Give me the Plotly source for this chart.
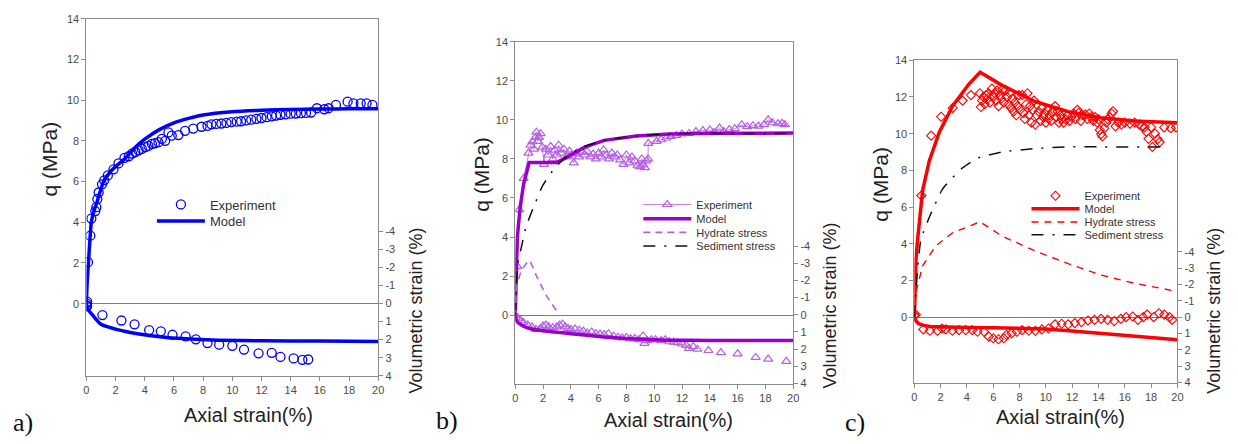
import plotly.graph_objects as go

# ---------------- data: panel a ----------------
a_exp_x = [0.0, 0.05, 0.11, 0.27, 0.34, 0.61, 0.68, 0.75, 0.84, 1.07,
           1.22, 1.47, 1.86, 2.2, 2.61, 2.9, 3.13, 3.35, 3.58, 3.8,
           4.04, 4.25, 4.49, 4.7, 4.94, 5.17, 5.4, 5.62, 5.85, 6.3,
           6.76, 7.32, 7.89, 8.3, 8.57, 8.9, 9.25, 9.6, 9.93, 10.3,
           10.6, 10.95, 11.3, 11.65, 12.0, 12.35, 12.7, 13.0, 13.3, 13.65,
           14.0, 14.35, 14.7, 15.05, 15.4, 15.8, 16.3, 16.6, 17.1, 17.9,
           18.3, 18.8, 19.2, 19.6]
a_exp_q = [-0.1, 0.1, 2.04, 3.34, 4.18, 4.55, 4.74, 5.14, 5.46, 5.86,
           6.06, 6.3, 6.6, 6.89, 7.16, 7.24, 7.37, 7.45, 7.53, 7.6,
           7.69, 7.75, 7.85, 7.88, 7.93, 8.09, 8.0, 8.41, 8.25, 8.28,
           8.49, 8.6, 8.69, 8.73, 8.81, 8.83, 8.85, 8.88, 8.92, 8.94,
           8.96, 9.0, 9.04, 9.08, 9.12, 9.16, 9.2, 9.24, 9.28, 9.3,
           9.33, 9.34, 9.36, 9.37, 9.39, 9.6, 9.55, 9.6, 9.76, 9.92,
           9.84, 9.84, 9.84, 9.76]
a_mod_x = [0, 0.05, 0.14, 0.34, 0.5, 0.73, 1.18, 1.8, 2.65, 3.3, 4.0,
           5.0, 6.0, 7.0, 8.0, 10.0, 12.0, 14.0, 16.0, 18.0, 20.0]
a_mod_q = [0, 1.0, 2.0, 4.0, 4.5, 5.0, 6.0, 6.6, 7.13, 7.65, 8.08,
           8.55, 8.88, 9.1, 9.27, 9.43, 9.5, 9.54, 9.56, 9.57, 9.58]
a_mod_vx = [0, 0.1, 0.4, 1.0, 2.0, 3.0, 4.3, 5.5, 7.45, 9.0, 12, 16, 20]
a_mod_v = [0, 0.3, 0.62, 1.15, 1.42, 1.6, 1.77, 1.88, 1.98, 2.03, 2.06, 2.08, 2.1]
a_exp_vx = [0.0, 0.05, 1.1, 2.4, 3.3, 4.3, 5.1, 5.9, 6.8, 7.5,
            8.3, 9.1, 10.0, 10.8, 11.8, 12.7, 13.3, 14.2, 14.8, 15.2]
a_exp_v = [0.0, 0.15, 0.64, 0.94, 1.15, 1.47, 1.54, 1.73, 1.82, 1.98,
           2.19, 2.28, 2.34, 2.55, 2.76, 2.73, 2.96, 3.04, 3.12, 3.1]

# ---------------- data: panel b ----------------
b_exp_x = [0.0, 0.15, 0.29, 0.6, 0.95, 1.1, 1.24, 1.35, 1.45, 1.52,
           1.6, 1.7, 1.83, 1.95, 2.07, 2.2, 2.35, 2.55, 2.7, 2.85,
           3.0, 3.12, 3.3, 3.5, 3.7, 3.9, 4.05, 4.21, 4.4, 4.6,
           4.8, 5.0, 5.17, 5.4, 5.6, 5.8, 6.0, 6.2, 6.36, 6.55,
           6.75, 6.95, 7.15, 7.35, 7.55, 7.79, 8.0, 8.2, 8.4, 8.6,
           8.8, 8.98, 9.1, 9.2, 9.33, 9.45, 9.55, 9.57, 10.17, 10.5,
           10.88, 11.2, 11.6, 12.0, 12.5, 13.0, 13.5, 14.0, 14.3, 14.7,
           15.0, 15.4, 15.8, 16.3, 16.7, 17.1, 17.5, 17.9, 18.2, 18.5,
           18.9, 19.2, 19.4]
b_exp_q = [0.0, 2.5, 5.4, 7.0, 8.3, 8.7, 8.88, 8.5, 9.1, 9.37,
           8.9, 9.1, 9.29, 8.6, 7.72, 8.5, 8.2, 8.63, 8.0, 8.45,
           8.2, 8.7, 8.3, 8.5, 8.1, 8.4, 8.2, 7.8, 8.3, 8.1,
           8.35, 8.2, 8.38, 8.1, 8.25, 8.0, 8.3, 8.1, 8.46, 8.2,
           8.0, 8.3, 8.1, 8.2, 7.95, 7.72, 8.2, 7.8, 8.1, 7.9,
           7.65, 7.6, 8.0, 7.7, 7.55, 7.9, 8.0, 8.8, 8.9, 8.98,
           9.07, 9.15, 9.2, 9.28, 9.3, 9.4, 9.45, 9.48, 9.35, 9.58,
           9.4, 9.5, 9.55, 9.75, 9.65, 9.7, 9.68, 9.75, 10.0, 9.85,
           9.8, 9.82, 9.75]
b_mod_x = [0, 0.05, 0.15, 0.35, 0.6, 1.0, 3.0, 3.5, 4.0, 5.0, 6.4, 8.7, 11.1, 14.0, 20.0]
b_mod_q = [0, 2.0, 4.0, 5.5, 6.7, 7.82, 7.82, 8.0, 8.2, 8.6, 8.95, 9.17, 9.28, 9.31, 9.32]
b_sed_x = [0, 0.05, 0.17, 0.45, 0.76, 1.36, 1.95, 2.8, 3.5, 4.2, 5.0, 6.4, 8.7, 11.1, 14.0, 19.5]
b_sed_q = [0, 0.8, 2.6, 3.5, 4.5, 5.6, 6.6, 7.5, 8.0, 8.35, 8.65, 8.95, 9.17, 9.28, 9.3, 9.3]
b_hyd_x = [0, 0.1, 0.4, 1.0, 1.5, 2.2, 3.0]
b_hyd_q = [0, 1.4, 2.2, 2.8, 2.05, 1.05, 0.2]
b_mod_vx = [0, 0.05, 0.2, 0.5, 1.1, 2.0, 2.8, 4.0, 6.36, 8.0, 11.1, 14, 20]
b_mod_v = [0, 0.25, 0.45, 0.62, 0.81, 0.93, 1.0, 1.1, 1.29, 1.38, 1.48, 1.49, 1.49]
b_exp_vx = [0.0, 0.2, 0.4, 0.6, 0.9, 1.2, 1.5, 1.8, 2.0, 2.2,
            2.4, 2.7, 3.0, 3.2, 3.4, 3.6, 3.8, 4.0, 4.3, 4.6,
            4.9, 5.17, 5.5, 5.8, 6.1, 6.4, 6.7, 7.07, 7.4, 7.7,
            8.0, 8.3, 8.6, 8.9, 9.2, 9.3, 9.5, 9.8, 10.1, 10.5,
            10.8, 11.1, 11.4, 11.7, 12.0, 12.3, 12.5, 12.8, 13.1, 13.9,
            14.8, 16.0, 17.3, 18.2, 19.5]
b_exp_v = [0.0, 0.2, 0.35, 0.45, 0.6, 0.7, 0.85, 0.8, 0.65, 0.6,
           0.7, 0.75, 0.7, 0.6, 0.55, 0.7, 0.8, 0.85, 0.82, 0.9,
           0.95, 1.06, 1.0, 1.1, 1.12, 1.15, 1.1, 1.25, 1.3, 1.35,
           1.32, 1.4, 1.38, 1.45, 1.23, 1.67, 1.5, 1.45, 1.45, 1.5,
           1.45, 1.57, 1.6, 1.62, 1.7, 1.78, 1.95, 1.85, 2.0, 2.08,
           2.2, 2.27, 2.48, 2.58, 2.71]

# ---------------- data: panel c ----------------
c_exp_x = [0.0, 0.1, 0.53, 1.28, 2.04, 2.92, 3.67, 4.3, 4.98, 5.06,
           5.15, 5.25, 5.35, 5.45, 5.55, 5.65, 5.75, 5.9, 6.0, 6.1,
           6.2, 6.3, 6.4, 6.5, 6.6, 6.7, 6.8, 6.94, 7.05, 7.15,
           7.25, 7.35, 7.45, 7.55, 7.65, 7.75, 7.85, 7.95, 8.05, 8.2,
           8.3, 8.4, 8.5, 8.6, 8.7, 8.8, 8.9, 9.0, 9.1, 9.2,
           9.3, 9.46, 9.6, 9.7, 9.8, 9.9, 10.0, 10.1, 10.2, 10.3,
           10.4, 10.5, 10.7, 10.8, 10.9, 11.0, 11.1, 11.2, 11.35, 11.5,
           11.65, 11.8, 11.95, 12.1, 12.25, 12.4, 12.5, 12.65, 12.8, 13.0,
           13.15, 13.3, 13.45, 13.6, 13.75, 13.9, 14.0, 14.1, 14.2, 14.3,
           14.45, 14.6, 14.7, 14.85, 15.0, 15.1, 15.3, 15.5, 15.75, 16.0,
           16.4, 16.75, 17.1, 17.3, 17.5, 17.65, 17.8, 18.0, 18.1, 18.3,
           18.5, 18.65, 19.0, 19.5, 19.9]
c_exp_q = [0.1, 0.15, 6.63, 9.89, 10.92, 11.4, 11.8, 12.1, 12.2, 11.45,
           11.8, 12.0, 11.6, 12.1, 11.9, 12.2, 11.7, 12.45, 12.0, 12.2,
           11.8, 12.35, 11.5, 12.1, 11.9, 12.4, 11.7, 12.37, 12.0, 11.6,
           12.2, 11.4, 11.9, 11.2, 11.7, 11.0, 11.5, 12.1, 11.3, 12.1,
           11.13, 10.8, 11.6, 12.2, 11.0, 11.5, 10.6, 11.3, 11.8, 10.5,
           11.0, 11.2, 10.7, 11.4, 10.9, 11.1, 10.6, 11.3, 10.8, 11.0,
           10.7, 11.2, 11.5, 10.9, 11.2, 10.6, 11.0, 10.8, 10.6, 10.78,
           11.0, 10.7, 10.9, 11.1, 10.8, 11.3, 11.13, 10.7, 11.0, 11.04,
           10.8, 11.1, 10.9, 10.7, 10.9, 10.6, 10.78, 10.2, 9.98, 9.85,
           10.3, 10.6, 10.78, 10.9, 11.1, 11.22, 10.4, 10.6, 10.5, 10.6,
           10.55, 10.6, 10.5, 10.4, 10.34, 10.1, 9.72, 10.35, 9.28, 10.0,
           9.7, 9.54, 10.34, 10.3, 10.34]
c_mod_x = [0, 0.05, 0.13, 0.25, 0.63, 1.13, 1.89, 2.9, 4.15, 5.0, 6.67, 9.18, 11.7, 14.2, 16.7, 20]
c_mod_q = [0, 1.77, 3.2, 4.24, 6.9, 8.5, 10.07, 11.5, 12.7, 13.34, 12.63, 11.75, 11.2, 10.87, 10.69, 10.6]
c_hyd_x = [0, 0.13, 0.63, 1.64, 2.9, 5.0, 6.67, 9.18, 11.7, 14.2, 16.7, 20]
c_hyd_q = [0, 1.4, 2.8, 3.9, 4.6, 5.2, 4.42, 3.62, 2.92, 2.3, 1.86, 1.41]
c_sed_x = [0, 0.05, 0.25, 0.5, 1.26, 2.14, 2.9, 3.65, 4.78, 6.67, 9.18, 11.7, 14.2, 19.2]
c_sed_q = [0, 0.7, 2.65, 4.24, 5.65, 6.98, 7.6, 8.13, 8.66, 9.0, 9.19, 9.28, 9.28, 9.28]
c_mod_vx = [0, 0.1, 0.3, 0.7, 1.2, 2, 4, 6, 8, 10, 12, 14, 16, 18, 20]
c_mod_v = [0, 0.2, 0.38, 0.5, 0.57, 0.6, 0.63, 0.65, 0.67, 0.72, 0.85, 0.98, 1.1, 1.24, 1.38]
c_exp_vx = [0.0, 0.68, 1.18, 1.76, 2.1, 2.4, 2.9, 3.4, 3.9, 4.4,
            4.8, 5.3, 5.66, 6.0, 6.4, 6.8, 7.0, 7.4, 7.8, 8.2,
            8.7, 9.2, 9.7, 10.2, 10.7, 11.2, 11.7, 12.2, 12.7, 13.2,
            13.7, 14.2, 14.7, 15.2, 15.7, 16.1, 16.6, 17.0, 17.4, 17.7,
            18.2, 18.6, 19.0, 19.4, 19.6]
c_exp_v = [-0.1, 0.75, 0.83, 0.83, 0.69, 0.75, 0.83, 0.79, 0.79, 0.79,
           0.89, 0.89, 1.19, 1.29, 1.35, 1.29, 1.09, 0.99, 0.89, 0.79,
           0.83, 0.83, 0.75, 0.69, 0.44, 0.4, 0.44, 0.36, 0.3, 0.2,
           0.16, 0.1, 0.16, 0.24, 0.1, 0.0, -0.04, 0.16, 0.0, -0.16,
           0.0, -0.24, -0.16, 0.0, 0.16]

x_ticks = [0, 2, 4, 6, 8, 10, 12, 14, 16, 18, 20]
q_ticks = [0, 2, 4, 6, 8, 10, 12, 14]
v_ticks = [-4, -3, -2, -1, 0, 1, 2, 3, 4]
v_ticktext = ["-4", "-3", "-2", "-1", "0", "1", "2", "3", "4"]

# ---------------- layout geometry (pixels) ----------------
W, H = 1238, 444
FONT = "Liberation Sans, Arial, sans-serif"
SERIF = "Liberation Serif, Times New Roman, serif"
GRAY = "#8c8c8c"

panels = [
    dict(x0=84, x1=378, top=13, bot=380, qlo=-3.54, vtop=-15.79,
         xt=(247, 420), qt=(47, 157), vt=(416, 313), lab=(20, 428), lab_text="a)"),
    dict(x0=516, x1=796, top=36.7, bot=388, qlo=-3.5, vtop=-15.89,
         xt=(670, 425), qt=(482, 173), vt=(833, 308), lab=(447, 426), lab_text="b)"),
    dict(x0=918, x1=1183, top=55.7, bot=387, qlo=-3.55, vtop=-15.73,
         xt=(1065, 422), qt=(883, 183), vt=(1219, 313), lab=(858, 428), lab_text="c)"),
]

fig = go.Figure()
layout = dict(width=W, height=H, margin=dict(l=0, r=0, t=0, b=0),
              paper_bgcolor="white", plot_bgcolor="white", showlegend=True)
annotations = []
tickfont = dict(family=FONT, size=11, color="#4a4a4a")

for i, p in enumerate(panels):
    xn = "xaxis" if i == 0 else f"xaxis{i + 1}"
    xr = "x" if i == 0 else f"x{i + 1}"
    yq = 2 * i + 1
    yv = 2 * i + 2
    yqn = "yaxis" if yq == 1 else f"yaxis{yq}"
    yqr = "y" if yq == 1 else f"y{yq}"
    layout[xn] = dict(domain=[p["x0"] / W, p["x1"] / W], anchor=yqr, range=[0, 20],
                      tickvals=x_ticks, showline=True, mirror=True, linecolor=GRAY,
                      linewidth=1, ticks="outside", ticklen=4, tickcolor=GRAY,
                      showgrid=False, zeroline=False, tickfont=tickfont)
    layout[yqn] = dict(domain=[1 - p["bot"] / H, 1 - p["top"] / H], anchor=xr,
                       range=[p["qlo"], 14], tickvals=q_ticks, showline=True, mirror=True,
                       linecolor=GRAY, linewidth=1, ticks="outside", ticklen=4,
                       tickcolor=GRAY, showgrid=False, zeroline=True,
                       zerolinecolor="#7a7a7a", zerolinewidth=1, tickfont=tickfont)
    layout[f"yaxis{yv}"] = dict(overlaying=yqr, side="right", anchor=xr,
                                range=[4, p["vtop"]], tickvals=v_ticks, ticktext=v_ticktext,
                                ticks="outside", ticklen=4, tickcolor=GRAY, showline=False,
                                showgrid=False, zeroline=False, tickfont=tickfont)
    annotations += [
        dict(text="Axial strain(%)", x=p["xt"][0] / W, y=1 - p["xt"][1] / H, xref="paper",
             yref="paper", showarrow=False, font=dict(family=FONT, size=20, color="#222"),
             xanchor="center", yanchor="middle"),
        dict(text="q (MPa)", x=p["qt"][0] / W, y=1 - p["qt"][1] / H, xref="paper",
             yref="paper", showarrow=False, textangle=-90,
             font=dict(family=FONT, size=21, color="#222"), xanchor="center", yanchor="middle"),
        dict(text="Volumetric strain (%)", x=p["vt"][0] / W, y=1 - p["vt"][1] / H,
             xref="paper", yref="paper", showarrow=False, textangle=-90,
             font=dict(family=FONT, size=18, color="#222"), xanchor="center", yanchor="middle"),
        dict(text=p["lab_text"], x=p["lab"][0] / W, y=1 - p["lab"][1] / H, xref="paper",
             yref="paper", showarrow=False, font=dict(family=SERIF, size=26, color="#111"),
             xanchor="center", yanchor="middle"),
    ]

BLUE = "#0000FF"
PURP = "#9A00CD"
PURP_L = "#B560E0"
RED = "#FF0000"

# legends: one per entry so the rows can sit at their exact places
leg_rows = [
    ("legend", 150, 204, 13), ("legend2", 150, 221, 13),
    ("legend3", 640, 204, 11), ("legend4", 640, 218.7, 11),
    ("legend5", 640, 232.7, 11), ("legend6", 640, 246.7, 11),
    ("legend7", 1031, 195, 11), ("legend8", 1031, 208.3, 11),
    ("legend9", 1031, 222, 11), ("legend10", 1031, 235, 11),
]
for name, lx, ly, fs in leg_rows:
    layout[name] = dict(x=lx / W, y=1 - ly / H, xanchor="left", yanchor="middle",
                        bgcolor="rgba(0,0,0,0)", borderwidth=0, itemwidth=48,
                        font=dict(family=FONT, size=fs, color="#333"),
                        itemclick=False, itemdoubleclick=False)

# ---- panel a ----
fig.add_trace(go.Scatter(x=a_exp_x, y=a_exp_q, mode="markers", name="Experiment",
                         marker=dict(symbol="circle-open", size=9, color=BLUE, line=dict(width=1.3)),
                         xaxis="x", yaxis="y", legend="legend"))
fig.add_trace(go.Scatter(x=a_exp_vx, y=a_exp_v, mode="markers", showlegend=False,
                         marker=dict(symbol="circle-open", size=9, color=BLUE, line=dict(width=1.3)),
                         xaxis="x", yaxis="y2"))
fig.add_trace(go.Scatter(x=a_mod_x, y=a_mod_q, mode="lines", name="Model",
                         line=dict(color=BLUE, width=3.5, shape="spline", smoothing=0.6),
                         xaxis="x", yaxis="y", legend="legend2"))
fig.add_trace(go.Scatter(x=a_mod_vx, y=a_mod_v, mode="lines", showlegend=False,
                         line=dict(color=BLUE, width=3.5, shape="spline", smoothing=0.6),
                         xaxis="x", yaxis="y2"))

# ---- panel b ----
fig.add_trace(go.Scatter(x=b_exp_x, y=b_exp_q, mode="lines+markers", name="Experiment",
                         line=dict(color=PURP_L, width=0.8),
                         marker=dict(symbol="triangle-up-open", size=8, color=PURP_L, line=dict(width=1.2)),
                         xaxis="x2", yaxis="y3", legend="legend3"))
fig.add_trace(go.Scatter(x=b_exp_vx, y=b_exp_v, mode="markers", showlegend=False,
                         marker=dict(symbol="triangle-up-open", size=8, color=PURP_L, line=dict(width=1.2)),
                         xaxis="x2", yaxis="y4"))
fig.add_trace(go.Scatter(x=b_mod_x, y=b_mod_q, mode="lines", name="Model",
                         line=dict(color=PURP, width=3.5),
                         xaxis="x2", yaxis="y3", legend="legend4"))
fig.add_trace(go.Scatter(x=b_hyd_x, y=b_hyd_q, mode="lines", name="Hydrate stress",
                         line=dict(color=PURP_L, width=1.6, dash="7px,5px", shape="spline", smoothing=0.5),
                         xaxis="x2", yaxis="y3", legend="legend5"))
fig.add_trace(go.Scatter(x=b_sed_x, y=b_sed_q, mode="lines", name="Sediment stress",
                         line=dict(color="#111", width=1.5, dash="12px,9px,2px,9px", shape="spline", smoothing=0.5),
                         xaxis="x2", yaxis="y3", legend="legend6"))
fig.add_trace(go.Scatter(x=b_mod_vx, y=b_mod_v, mode="lines", showlegend=False,
                         line=dict(color=PURP, width=3.5, shape="spline", smoothing=0.5),
                         xaxis="x2", yaxis="y4"))

# ---- panel c ----
fig.add_trace(go.Scatter(x=c_exp_x, y=c_exp_q, mode="markers", name="Experiment",
                         marker=dict(symbol="diamond-open", size=7, color=RED, line=dict(width=1.1)),
                         xaxis="x3", yaxis="y5", legend="legend7"))
fig.add_trace(go.Scatter(x=c_exp_vx, y=c_exp_v, mode="markers", showlegend=False,
                         marker=dict(symbol="diamond-open", size=7, color=RED, line=dict(width=1.1)),
                         xaxis="x3", yaxis="y6"))
fig.add_trace(go.Scatter(x=c_mod_x, y=c_mod_q, mode="lines", name="Model",
                         line=dict(color=RED, width=3.5),
                         xaxis="x3", yaxis="y5", legend="legend8"))
fig.add_trace(go.Scatter(x=c_hyd_x, y=c_hyd_q, mode="lines", name="Hydrate stress",
                         line=dict(color=RED, width=1.4, dash="7px,6px"),
                         xaxis="x3", yaxis="y5", legend="legend9"))
fig.add_trace(go.Scatter(x=c_sed_x, y=c_sed_q, mode="lines", name="Sediment stress",
                         line=dict(color="#111", width=1.5, dash="12px,9px,2px,9px", shape="spline", smoothing=0.5),
                         xaxis="x3", yaxis="y5", legend="legend10"))
fig.add_trace(go.Scatter(x=c_mod_vx, y=c_mod_v, mode="lines", showlegend=False,
                         line=dict(color=RED, width=3.5),
                         xaxis="x3", yaxis="y6"))

layout["annotations"] = annotations
fig.update_layout(**layout)
fig.write_html("out.html")
